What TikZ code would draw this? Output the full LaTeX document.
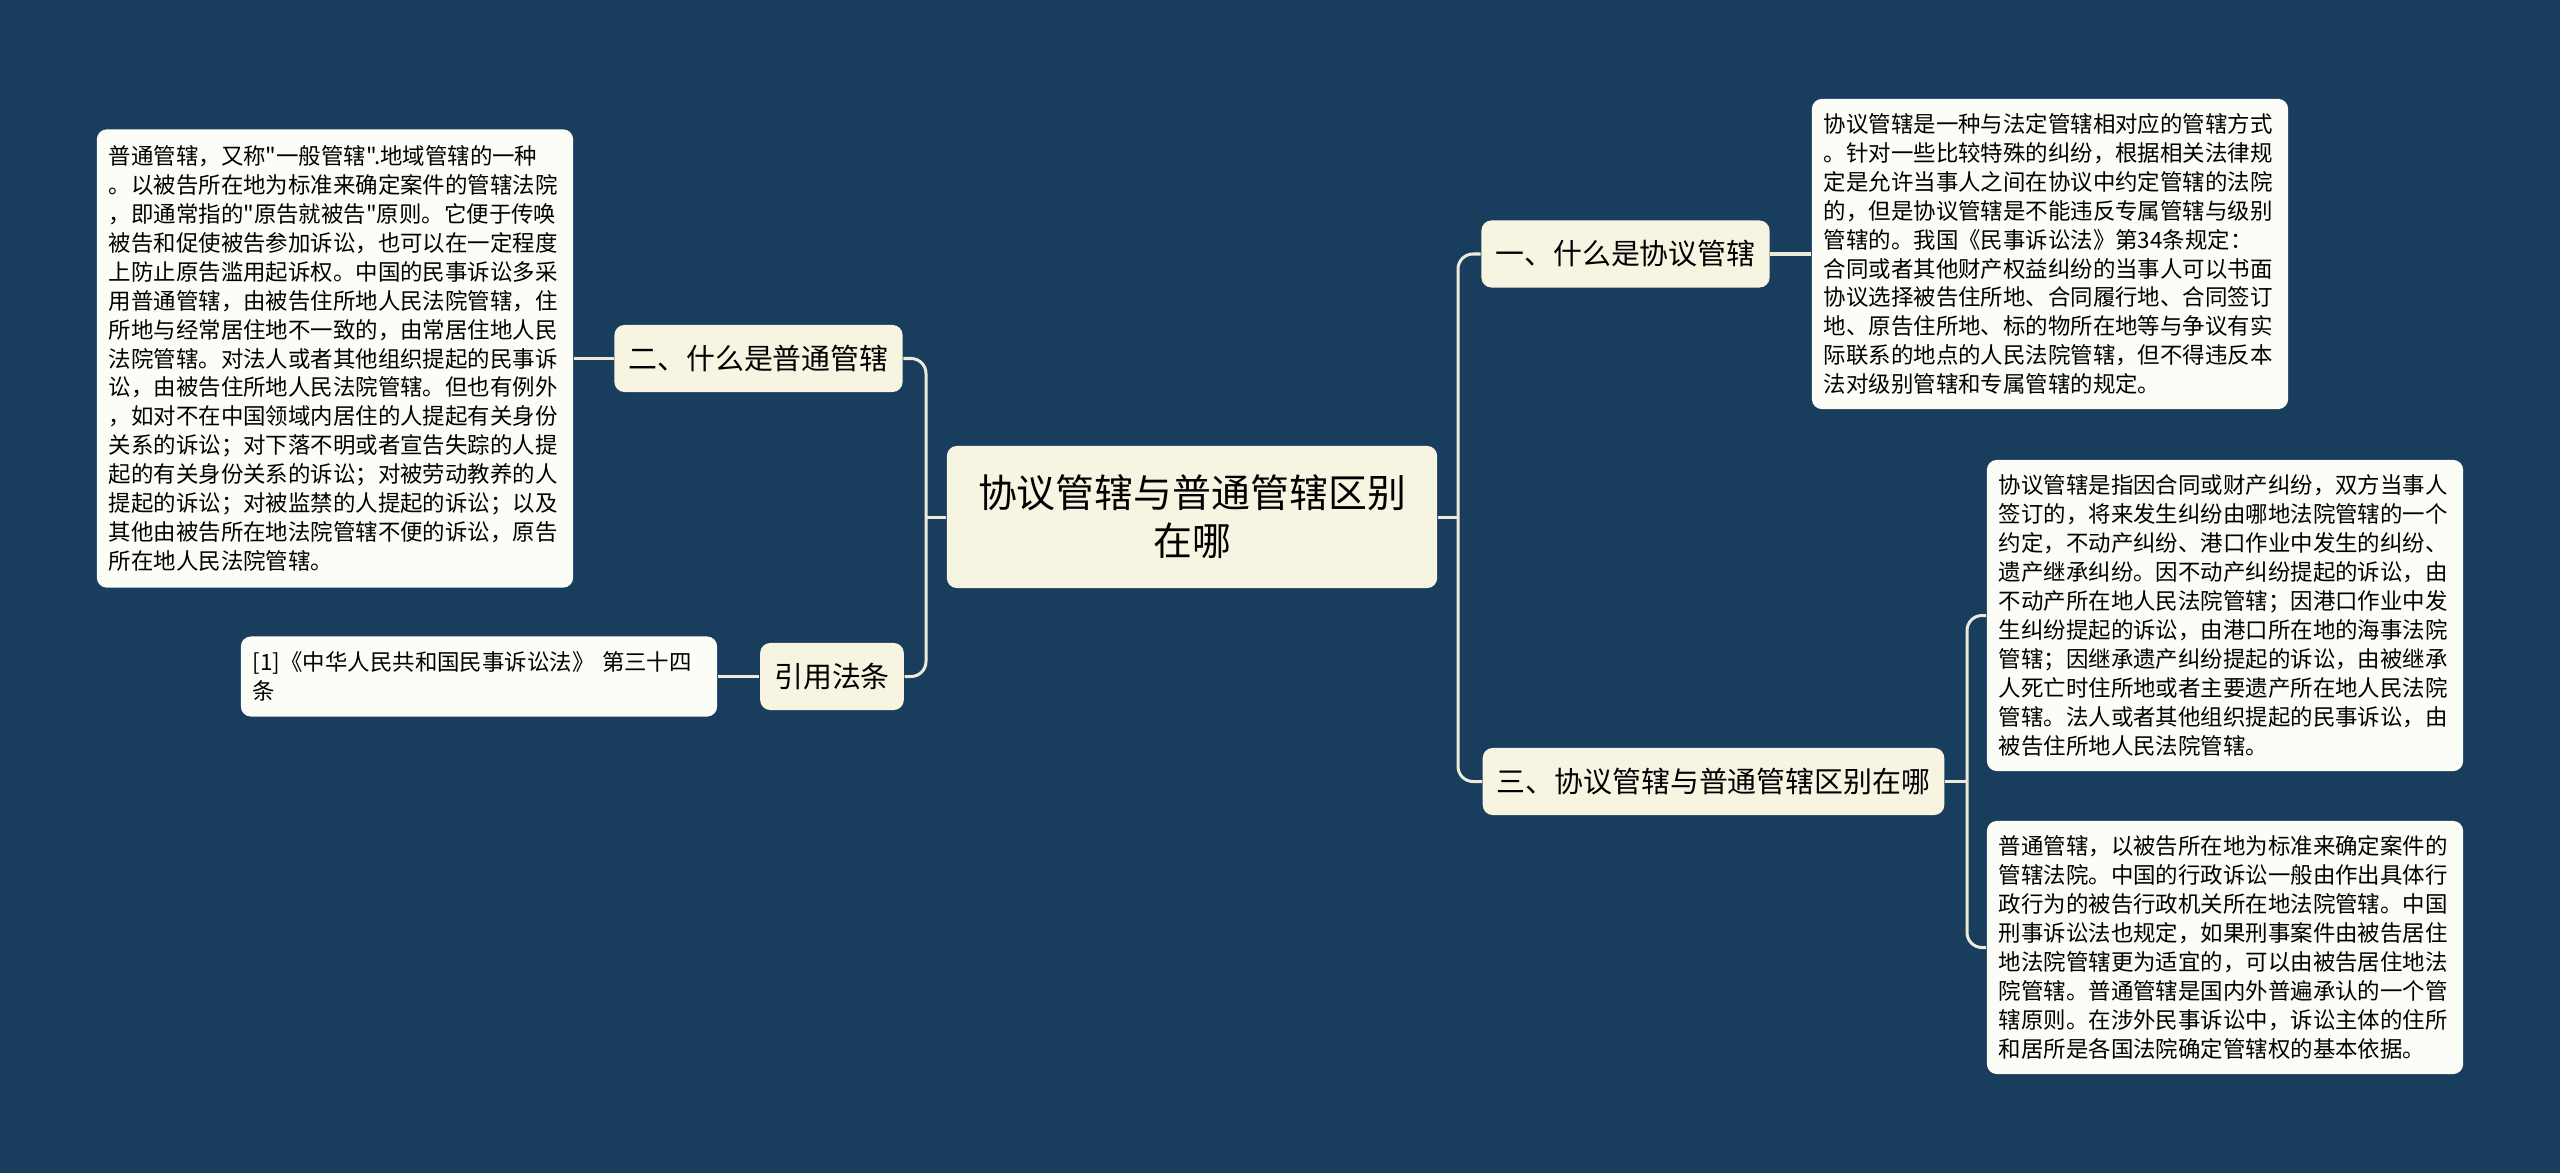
\documentclass[tikz,border=0pt]{standalone}
\usepackage{fontspec}
\newfontfamily\cjk{Noto Sans CJK SC}
\usetikzlibrary{positioning}
\definecolor{bgnavy}{RGB}{24,61,93}
\definecolor{topicfill}{RGB}{248,244,226}
\definecolor{leaffill}{RGB}{253,253,248}
\definecolor{linkcol}{RGB}{238,234,218}
\tikzset{
  rootbox/.style={fill=topicfill, rounded corners=0.1cm, align=center, inner sep=0pt,
                  minimum width=4.9cm, minimum height=1.42cm,
                  font=\cjk\fontsize{11.06}{13.6}\selectfont},
  topicbox/.style={fill=topicfill, rounded corners=0.1cm, inner xsep=0.14cm, inner ysep=0pt,
                   minimum height=0.67cm, font=\cjk\fontsize{8.22}{10}\selectfont},
  leafbox/.style={fill=leaffill, rounded corners=0.1cm, align=left, text width=4.52cm,
                  inner xsep=0.12cm, inner ysep=0pt,
                  font=\cjk\fontsize{6.38}{8.22}\selectfont},
  link/.style={draw=linkcol, line width=0.03cm, rounded corners=0.15cm},
}
\begin{document}
\begin{tikzpicture}[x=0.01cm, y=-0.01cm]
  \fill[bgnavy] (0,0) rectangle (2560,1173);

  \node[rootbox] (root) at (1192,517) {协议管辖与普通管辖区别\\在哪};

  \node[topicbox] (b1) at (1625.5,254) {一、什么是协议管辖};
  \node[topicbox] (b3) at (1713.5,781.5) {三、协议管辖与普通管辖区别在哪};
  \node[topicbox] (b2) at (758.5,358.5) {二、什么是普通管辖};
  \node[topicbox] (b4) at (832,676.5) {引用法条};

  \node[leafbox, minimum height=3.1cm] (t1) at (2050,254) {协议管辖是一种与法定管辖相对应的管辖方式\\
    。针对一些比较特殊的纠纷，根据相关法律规\\
    定是允许当事人之间在协议中约定管辖的法院\\
    的，但是协议管辖是不能违反专属管辖与级别\\
    管辖的。我国《民事诉讼法》第34条规定：\\
    合同或者其他财产权益纠纷的当事人可以书面\\
    协议选择被告住所地、合同履行地、合同签订\\
    地、原告住所地、标的物所在地等与争议有实\\
    际联系的地点的人民法院管辖，但不得违反本\\
    法对级别管辖和专属管辖的规定。};
  \node[leafbox, minimum height=3.11cm] (t2) at (2225,615.5) {协议管辖是指因合同或财产纠纷，双方当事人\\
    签订的，将来发生纠纷由哪地法院管辖的一个\\
    约定，不动产纠纷、港口作业中发生的纠纷、\\
    遗产继承纠纷。因不动产纠纷提起的诉讼，由\\
    不动产所在地人民法院管辖；因港口作业中发\\
    生纠纷提起的诉讼，由港口所在地的海事法院\\
    管辖；因继承遗产纠纷提起的诉讼，由被继承\\
    人死亡时住所地或者主要遗产所在地人民法院\\
    管辖。法人或者其他组织提起的民事诉讼，由\\
    被告住所地人民法院管辖。};
  \node[leafbox, minimum height=2.53cm] (t3) at (2225,947.5) {普通管辖，以被告所在地为标准来确定案件的\\
    管辖法院。中国的行政诉讼一般由作出具体行\\
    政行为的被告行政机关所在地法院管辖。中国\\
    刑事诉讼法也规定，如果刑事案件由被告居住\\
    地法院管辖更为适宜的，可以由被告居住地法\\
    院管辖。普通管辖是国内外普遍承认的一个管\\
    辖原则。在涉外民事诉讼中，诉讼主体的住所\\
    和居所是各国法院确定管辖权的基本依据。};
  \node[leafbox, minimum height=4.58cm] (l1) at (335,358.5) {普通管辖，又称"一般管辖".地域管辖的一种\\
    。以被告所在地为标准来确定案件的管辖法院\\
    ，即通常指的"原告就被告"原则。它便于传唤\\
    被告和促使被告参加诉讼，也可以在一定程度\\
    上防止原告滥用起诉权。中国的民事诉讼多采\\
    用普通管辖，由被告住所地人民法院管辖，住\\
    所地与经常居住地不一致的，由常居住地人民\\
    法院管辖。对法人或者其他组织提起的民事诉\\
    讼，由被告住所地人民法院管辖。但也有例外\\
    ，如对不在中国领域内居住的人提起有关身份\\
    关系的诉讼；对下落不明或者宣告失踪的人提\\
    起的有关身份关系的诉讼；对被劳动教养的人\\
    提起的诉讼；对被监禁的人提起的诉讼；以及\\
    其他由被告所在地法院管辖不便的诉讼，原告\\
    所在地人民法院管辖。};
  \node[leafbox, minimum height=0.8cm] (c1) at (479,676.5) {[1]《中华人民共和国民事诉讼法》 第三十四\\条};

  \coordinate (rj) at (1458,517);
  \coordinate (lj) at (926,517);
  \coordinate (tj) at (1967,781.5);

  \draw[link] (root.east) -- (rj);
  \draw[link] (root.west) -- (lj);
  \draw[link] (b3.east) -- (tj);
  \foreach \n in {b1, b3} {
    \draw[link] (rj) |- (\n.west);
  }
  \foreach \n in {b2, b4} {
    \draw[link] (lj) |- (\n.east);
  }
  \foreach \n in {t2, t3} {
    \draw[link] (tj) |- (\n.west);
  }
  \draw[link] (b1.east) -- (b1.east -| t1.west);
  \draw[link] (b2.west) -- (b2.west -| l1.east);
  \draw[link] (b4.west) -- (b4.west -| c1.east);
\end{tikzpicture}
\end{document}
